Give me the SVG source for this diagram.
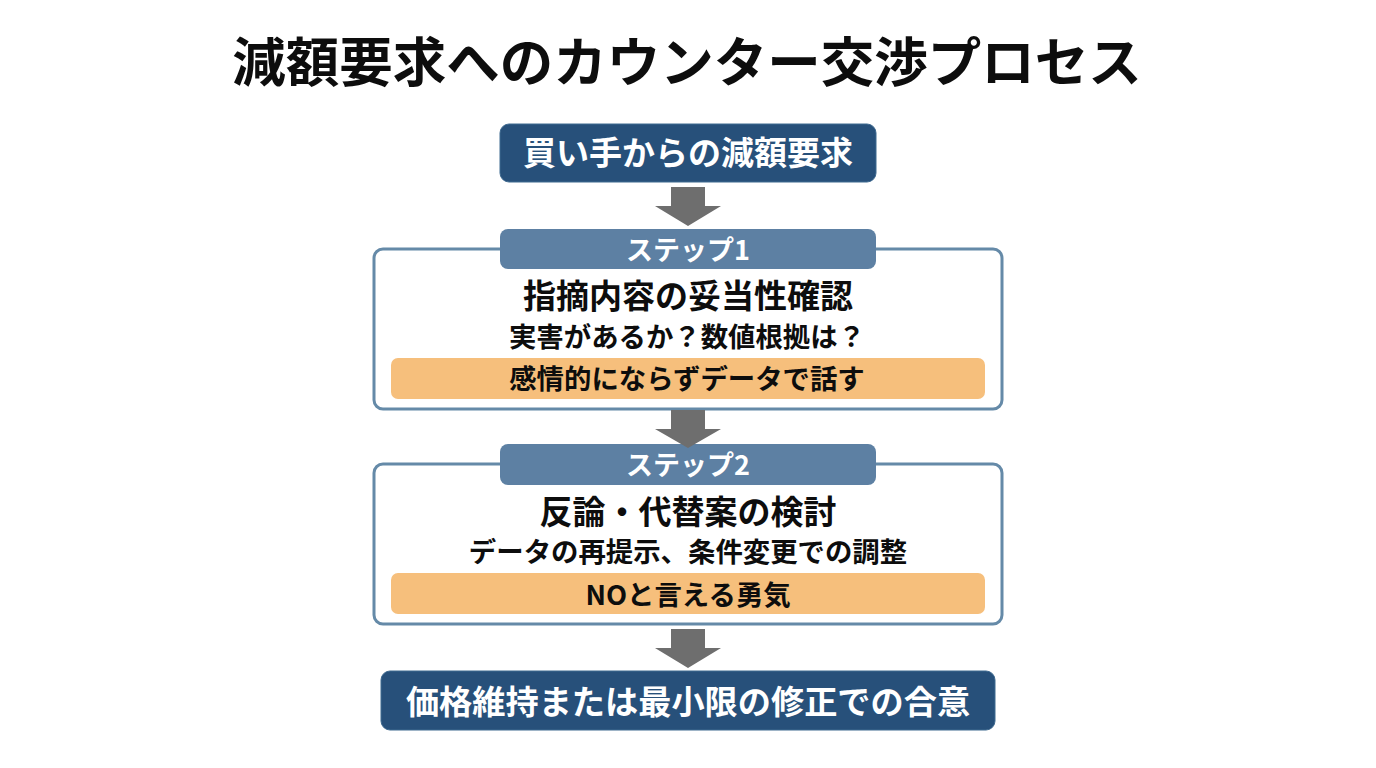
<svg xmlns="http://www.w3.org/2000/svg" width="1376" height="768" viewBox="0 0 1376 768">
<style>
text{font-family:"Noto Sans CJK JP","Noto Sans",sans-serif;font-weight:700;text-anchor:middle;fill:#0d0d0d}
.w{fill:#fff}
.dark{fill:#27507a;stroke:#3f6a90;stroke-width:1}
.mid{fill:#5d80a3}
.panel{fill:#fff;stroke:#658aa8;stroke-width:3}
.note{fill:#f6bf7c}
.arrow{fill:#6e6e6e}
</style>
<rect width="1376" height="768" fill="#fff"/>
<text id="title" x="687" y="82" font-size="53.500">減額要求へのカウンター交渉プロセス</text>
<g id="start">
<rect class="dark" x="500" y="124" width="376" height="58" rx="9"/>
<text class="w" x="688" y="165" font-size="33">買い手からの減額要求</text>
</g>
<g id="step1">
<rect class="panel" x="374" y="249" width="628" height="160" rx="9"/>
<rect class="mid" x="500" y="229" width="376" height="40" rx="8"/>
<text class="w" x="688" y="260" font-size="27">ステップ1</text>
<text x="688" y="308" font-size="33">指摘内容の妥当性確認</text>
<text x="687" y="347" font-size="27.400">実害があるか？数値根拠は？</text>
<rect class="note" x="391" y="358" width="594" height="41" rx="7"/>
<text x="687" y="389" font-size="27.400">感情的にならずデータで話す</text>
</g>
<g id="step2">
<rect class="panel" x="374" y="464" width="628" height="160" rx="9"/>
<rect class="mid" x="500" y="444" width="376" height="41" rx="8"/>
<text class="w" x="688" y="475" font-size="27">ステップ2</text>
<text x="688" y="524" font-size="33">反論・代替案の検討</text>
<text x="688" y="562" font-size="27.400">データの再提示、条件変更での調整</text>
<rect class="note" x="391" y="573" width="594" height="41" rx="7"/>
<text x="688" y="605" font-size="27.400">NOと言える勇気</text>
</g>
<g id="end">
<rect class="dark" x="381" y="671" width="614" height="59" rx="9"/>
<text class="w" x="688" y="714" font-size="33.200">価格維持または最小限の修正での合意</text>
</g>
<g id="connectors">
<path class="arrow" d="M671 187H705V206H721L688 226L655 206H671Z"/>
<path class="arrow" d="M671 410H705V429H721L688 448L655 429H671Z"/>
<path class="arrow" d="M671 629H705V648H721L688 668L655 648H671Z"/>
</g>
</svg>
